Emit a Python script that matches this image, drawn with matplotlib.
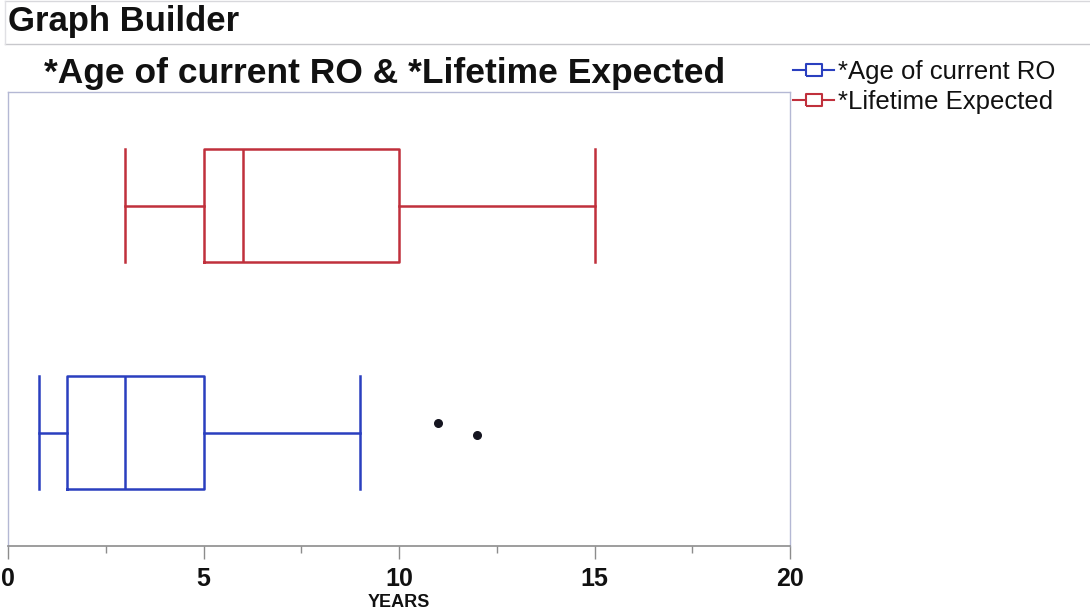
import matplotlib
matplotlib.use("Agg")
import matplotlib.pyplot as plt
from matplotlib.lines import Line2D
from matplotlib.ticker import MultipleLocator

plt.rcParams['font.family'] = ['Liberation Sans', 'DejaVu Sans']

# ---- data ----
series = ["*Age of current RO", "*Lifetime Expected"]
colors = ["#2a3fbf", "#c0303c"]
whislo = [0.8, 3]
q1 = [1.5, 5]
med = [3, 6]
q3 = [5, 10]
whishi = [9, 15]
outliers_x = [11, 12]
outliers_jitter = [0.04, -0.01]
xticks = [0, 5, 10, 15, 20]
xlabel = "YEARS"
title = "*Age of current RO & *Lifetime Expected"

W, H = 1090, 610
fig = plt.figure(figsize=(W / 100, H / 100), dpi=100)
ax = fig.add_axes([8 / W, 1 - 546 / H, (790 - 8) / W, (546 - 92) / H])

for i, name in enumerate(series):
    stats = [dict(med=med[i], q1=q1[i], q3=q3[i], whislo=whislo[i], whishi=whishi[i], fliers=[])]
    c = colors[i]
    ax.bxp(stats, positions=[i], widths=0.5, capwidths=0.5, vert=False, showfliers=False,
           boxprops=dict(color=c, linewidth=1.8),
           whiskerprops=dict(color=c, linewidth=1.8),
           capprops=dict(color=c, linewidth=1.8),
           medianprops=dict(color=c, linewidth=1.8))

ax.scatter(outliers_x, [0 + j for j in outliers_jitter], s=30, color="#151520", zorder=3)

ax.set_xlim(0, 20)
ax.set_ylim(-0.5, 1.5)
ax.set_yticks([])
ax.xaxis.set_major_locator(MultipleLocator(5))
ax.xaxis.set_minor_locator(MultipleLocator(2.5))
ax.set_xticks(xticks)
ax.set_xticklabels([str(t) for t in xticks], fontsize=18, fontweight='bold', color="#111111")
ax.tick_params(axis='x', which='major', length=9, width=1, color="#8c8c8c", pad=6)
ax.tick_params(axis='x', which='minor', length=5, width=1, color="#8c8c8c")
ax.set_xlabel(xlabel, fontsize=13, fontweight='bold', color="#111111", labelpad=2)

for s in ['left', 'right', 'top']:
    ax.spines[s].set_color("#b4b8d4")
    ax.spines[s].set_linewidth(1)
ax.spines['bottom'].set_color("#8c8c8c")
ax.spines['bottom'].set_linewidth(1.2)

# header
fig.text(8 / W, 1 - 22 / H, "Graph Builder", fontsize=25, fontweight='bold',
         va='center', ha='left', color="#111111")
fig.add_artist(Line2D([5 / W, 1], [1 - 44 / H, 1 - 44 / H], color="#c8c8cc", lw=1))
fig.add_artist(Line2D([5 / W, 1], [1 - 1 / H, 1 - 1 / H], color="#d8d8dc", lw=1))
fig.add_artist(Line2D([5 / W, 5 / W], [1 - 44 / H, 1 - 1 / H], color="#e0e0e4", lw=1))

fig.text(385 / W, 1 - 73 / H, title, fontsize=25.5, fontweight='bold',
         va='center', ha='center', color="#111111")

# legend
box_marker = [(-1.4, -1), (1.4, -1), (1.4, 1), (-1.4, 1), (-1.4, -1)]
handles = [Line2D([], [], color=c, lw=1.5, marker=box_marker, markersize=12,
                  markerfacecolor='white', markeredgecolor=c, markeredgewidth=1.5)
           for c in colors]
leg = fig.legend(handles, series, loc='upper left', bbox_to_anchor=(793 / W, 1 - 60 / H),
                 frameon=False, fontsize=18.5, handlelength=1.6, handletextpad=0.15,
                 labelspacing=0.25, borderaxespad=0, borderpad=0)
for t in leg.get_texts():
    t.set_color("#111111")

fig.savefig("out.png", dpi=100)
